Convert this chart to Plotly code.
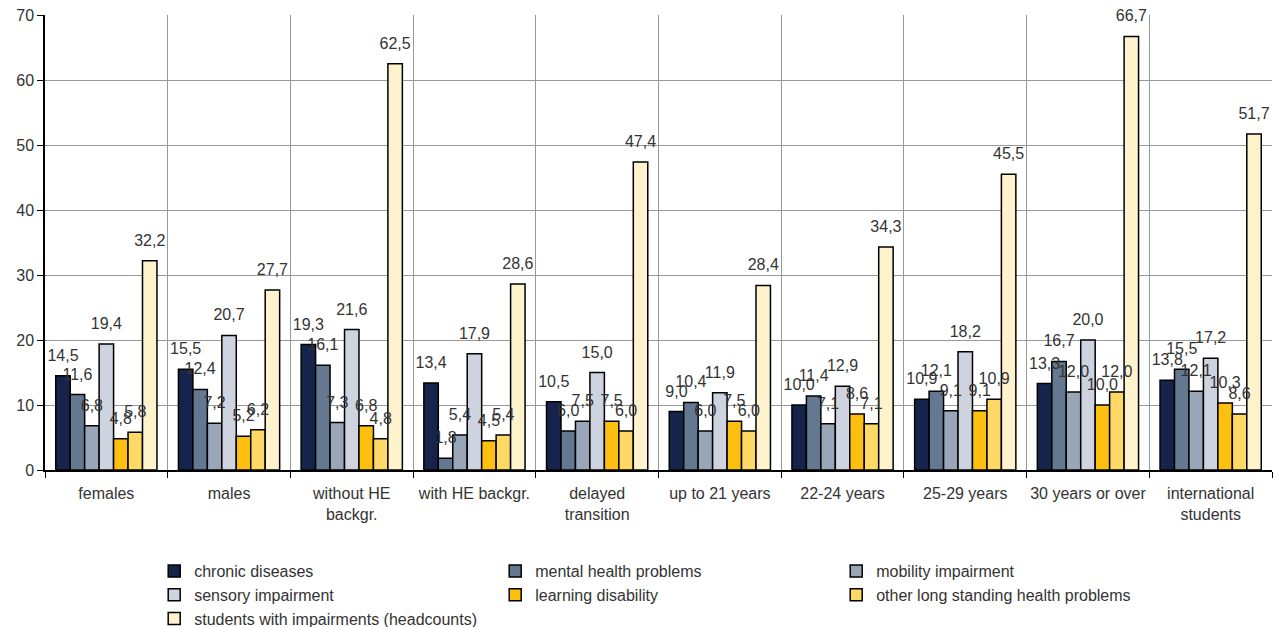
import plotly.graph_objects as go

# Groups shown along the x axis
categories = [
    "females", "males", "without HE<br>backgr.", "with HE backgr.",
    "delayed<br>transition", "up to 21 years", "22-24 years", "25-29 years",
    "30 years or over", "international<br>students",
]

# Share of students per impairment type (%)
chronic_diseases = [14.5, 15.5, 19.3, 13.4, 10.5, 9.0, 10.0, 10.9, 13.3, 13.8]
mental_health = [11.6, 12.4, 16.1, 1.8, 6.0, 10.4, 11.4, 12.1, 16.7, 15.5]
mobility = [6.8, 7.2, 7.3, 5.4, 7.5, 6.0, 7.1, 9.1, 12.0, 12.1]
sensory = [19.4, 20.7, 21.6, 17.9, 15.0, 11.9, 12.9, 18.2, 20.0, 17.2]
learning = [4.8, 5.2, 6.8, 4.5, 7.5, 7.5, 8.6, 9.1, 10.0, 10.3]
other_long = [5.8, 6.2, 4.8, 5.4, 6.0, 6.0, 7.1, 10.9, 12.0, 8.6]
headcounts = [32.2, 27.7, 62.5, 28.6, 47.4, 28.4, 34.3, 45.5, 66.7, 51.7]

series = [
    ("chronic diseases", chronic_diseases, "#16244b"),
    ("mental health problems", mental_health, "#647891"),
    ("mobility impairment", mobility, "#98a6b7"),
    ("sensory impairment", sensory, "#cdd3df"),
    ("learning disability", learning, "#fdc010"),
    ("other long standing health problems", other_long, "#fed966"),
    ("students with impairments (headcounts)", headcounts, "#fef3cc"),
]

FONT = "Liberation Sans, Arial, sans-serif"
TEXT = "#333333"
GAP = 0.175

fig = go.Figure()
for name, vals, color in series:
    fig.add_trace(go.Bar(
        name=name,
        x=categories,
        y=vals,
        marker=dict(color=color, line=dict(color="#000000", width=1.5)),
        hoverinfo="x+y+name",
    ))

# Value labels as grouped text traces so they sit above every bar;
# the transparent marker keeps each label clear of its bar top
for name, vals, color in series:
    fig.add_trace(go.Scatter(
        x=categories,
        y=vals,
        mode="markers+text",
        marker=dict(size=16, color="rgba(0,0,0,0)"),
        text=[f"{v:.1f}".replace(".", ",") for v in vals],
        textposition="top center",
        textfont=dict(family=FONT, size=16, color=TEXT),
        showlegend=False,
        hoverinfo="skip",
        cliponaxis=False,
    ))

fig.update_layout(
    width=1279,
    height=627,
    margin=dict(l=45, r=7, t=15, b=157),
    paper_bgcolor="white",
    plot_bgcolor="white",
    separators=",.",
    barmode="group",
    bargap=GAP,
    bargroupgap=0,
    scattermode="group",
    scattergap=GAP,
    font=dict(family=FONT, size=16, color=TEXT),
    showlegend=True,
    legend=dict(
        orientation="h",
        x=0.089,
        xanchor="left",
        yref="container",
        y=0.1164,
        yanchor="top",
        entrywidth=296,
        entrywidthmode="pixels",
        font=dict(family=FONT, size=16, color=TEXT),
        itemwidth=30,
        bgcolor="rgba(0,0,0,0)",
    ),
    xaxis=dict(
        type="category",
        tickson="boundaries",
        tickangle=0,
        showgrid=True,
        gridcolor="#999999",
        gridwidth=1,
        showline=True,
        linecolor="#000000",
        linewidth=1.5,
        ticks="outside",
        ticklen=6,
        tickcolor="#000000",
        ticklabelstandoff=8,
        tickfont=dict(family=FONT, size=16, color=TEXT),
    ),
    yaxis=dict(
        range=[0, 70],
        dtick=10,
        showgrid=True,
        gridcolor="#999999",
        gridwidth=1,
        showline=True,
        linecolor="#000000",
        linewidth=1.5,
        ticks="outside",
        ticklen=6,
        tickcolor="#000000",
        tickfont=dict(family=FONT, size=16, color=TEXT),
        zeroline=False,
    ),
)

fig.write_html("out.html")
